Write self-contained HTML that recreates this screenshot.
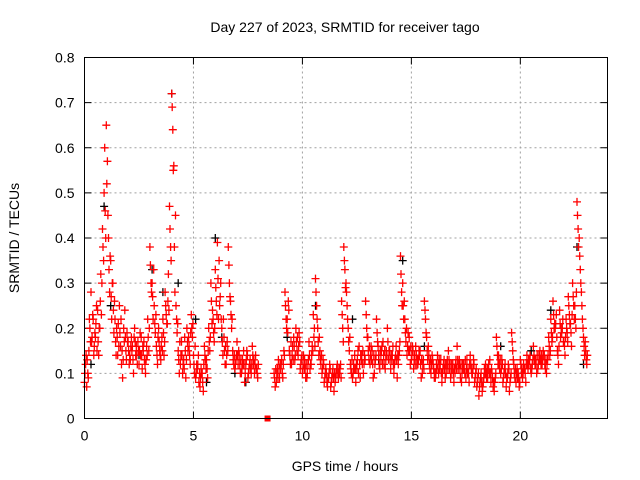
<!DOCTYPE html>
<html><head><meta charset="utf-8"><style>
body{margin:0;background:#fff;}
svg{display:block;font-family:"Liberation Sans",sans-serif;}
</style></head><body>
<svg id="chart" width="640" height="480" viewBox="0 0 640 480">
<text x="345" y="32" text-anchor="middle" font-size="14">Day 227 of 2023, SRMTID for receiver tago</text>
<text transform="translate(19,238) rotate(-90)" text-anchor="middle" font-size="14">SRMTID / TECUs</text>
<text x="345" y="471" text-anchor="middle" font-size="14">GPS time / hours</text>
<g id="grid"></g>
<g id="ticks"></g>
<g id="blk"></g>
<g id="red"></g>
<rect x="84.5" y="57.5" width="523" height="361" fill="none" stroke="#000" stroke-width="1"/>
</svg>
<script>
const xTicks=[0,5,10,15,20];
const yTicks=[0,0.1,0.2,0.3,0.4,0.5,0.6,0.7,0.8];
const yTickLabels=["0","0.1","0.2","0.3","0.4","0.5","0.6","0.7","0.8"];
const hours=[0,0.1,0.2,0.3,0.4,0.5,0.6,0.7,0.8,0.9,1,1.1,1.2,1.3,1.4,1.5,1.6,1.7,1.8,1.9,2,2.1,2.2,2.3,2.4,2.5,2.6,2.7,2.8,2.9,3,3.1,3.2,3.3,3.4,3.5,3.6,3.7,3.8,3.9,4,4.1,4.2,4.3,4.4,4.5,4.6,4.7,4.8,4.9,5,5.1,5.2,5.3,5.4,5.5,5.6,5.7,5.8,5.9,6,6.1,6.2,6.3,6.4,6.5,6.6,6.7,6.8,6.9,7,7.1,7.2,7.3,7.4,7.5,7.6,7.7,7.8,7.9,8,8.1,8.2,8.3,8.4,8.5,8.6,8.7,8.8,8.9,9,9.1,9.2,9.3,9.4,9.5,9.6,9.7,9.8,9.9,10,10.1,10.2,10.3,10.4,10.5,10.6,10.7,10.8,10.9,11,11.1,11.2,11.3,11.4,11.5,11.6,11.7,11.8,11.9,12,12.1,12.2,12.3,12.4,12.5,12.6,12.7,12.8,12.9,13,13.1,13.2,13.3,13.4,13.5,13.6,13.7,13.8,13.9,14,14.1,14.2,14.3,14.4,14.5,14.6,14.7,14.8,14.9,15,15.1,15.2,15.3,15.4,15.5,15.6,15.7,15.8,15.9,16,16.1,16.2,16.3,16.4,16.5,16.6,16.7,16.8,16.9,17,17.1,17.2,17.3,17.4,17.5,17.6,17.7,17.8,17.9,18,18.1,18.2,18.3,18.4,18.5,18.6,18.7,18.8,18.9,19,19.1,19.2,19.3,19.4,19.5,19.6,19.7,19.8,19.9,20,20.1,20.2,20.3,20.4,20.5,20.6,20.7,20.8,20.9,21,21.1,21.2,21.3,21.4,21.5,21.6,21.7,21.8,21.9,22,22.1,22.2,22.3,22.4,22.5,22.6,22.7,22.8,22.9,23];
const redA=[0.08,0.07,0.15,0.28,0.22,0.18,0.24,0.20,0.30,0.50,
0.65,0.40,0.35,0.30,0.22,0.18,0.25,0.12,0.20,0.15,
0.17,0.13,0.16,0.20,0.14,0.12,0.18,0.15,0.10,0.22,
0.38,0.30,0.25,0.16,0.20,0.13,0.22,0.28,0.21,0.47,
0.72,0.56,0.25,0.15,0.12,0.10,0.18,0.20,0.16,0.23,
0.14,0.09,0.12,0.07,0.10,0.16,0.13,0.20,0.30,0.22,
0.33,0.39,0.25,0.20,0.18,0.12,0.38,0.26,0.15,0.11,
0.17,0.14,0.10,0.15,0.12,0.09,0.13,0.16,0.10,0.11,
null,null,null,null,null,null,null,0.10,0.08,0.13,
0.11,0.09,0.28,0.22,0.15,0.12,0.18,0.20,0.14,0.11,
0.10,0.13,0.09,0.17,0.12,0.23,0.31,0.20,0.15,0.10,
0.08,0.10,0.09,0.07,0.11,0.08,0.12,0.10,0.26,0.38,
0.30,0.20,0.12,0.09,0.14,0.11,0.16,0.13,0.10,0.26,
0.18,0.12,0.15,0.10,0.22,0.14,0.13,0.17,0.11,0.20,
0.15,0.13,0.10,0.16,0.12,0.36,0.30,0.22,0.14,0.18,
0.13,0.11,0.16,0.12,0.15,0.10,0.26,0.18,0.14,0.10,
0.12,0.09,0.14,0.11,0.08,0.13,0.10,0.15,0.09,0.12,
0.10,0.16,0.13,0.08,0.12,0.09,0.11,0.14,0.10,0.08,
0.07,0.05,0.10,0.08,0.12,0.09,0.13,0.10,0.06,0.18,
0.14,0.10,0.08,0.12,0.09,0.06,0.19,0.12,0.08,0.10,
0.13,0.09,0.11,0.14,0.12,0.10,0.16,0.13,0.11,0.15,
0.12,0.14,0.10,0.18,0.22,0.26,0.20,0.15,0.24,0.19,
0.17,0.22,0.27,0.21,0.30,0.25,0.48,0.40,0.28,0.18,
0.15];
const redB=[0.12,0.10,0.20,0.18,0.16,0.25,0.14,0.32,0.38,0.46,
0.57,0.28,0.22,0.19,0.14,0.21,0.16,0.09,0.24,0.19,
0.12,0.18,0.10,0.14,0.17,0.19,0.11,0.13,0.16,0.15,
0.30,0.22,0.19,0.12,0.15,0.18,0.14,0.23,0.32,0.38,
0.64,0.28,0.19,0.10,0.17,0.13,0.09,0.15,0.12,0.18,
0.10,0.12,0.08,0.11,0.06,0.13,0.09,0.15,0.21,0.17,
0.26,0.22,0.30,0.14,0.12,0.17,0.30,0.20,0.12,0.13,
0.12,0.10,0.13,0.08,0.15,0.11,0.10,0.12,0.14,0.09,
null,null,null,null,null,null,null,0.07,0.11,0.09,
0.13,0.15,0.22,0.26,0.12,0.16,0.13,0.15,0.19,0.13,
0.14,0.09,0.12,0.11,0.16,0.20,0.25,0.14,0.12,0.13,
0.10,0.07,0.12,0.09,0.06,0.10,0.09,0.12,0.20,0.33,
0.25,0.15,0.10,0.12,0.08,0.15,0.09,0.12,0.14,0.20,
0.13,0.16,0.09,0.13,0.17,0.11,0.16,0.12,0.15,0.13,
0.11,0.16,0.13,0.09,0.15,0.28,0.22,0.17,0.19,0.12,
0.16,0.14,0.12,0.15,0.09,0.13,0.22,0.13,0.11,0.14,
0.09,0.12,0.10,0.13,0.11,0.09,0.13,0.11,0.12,0.08,
0.13,0.11,0.09,0.12,0.10,0.13,0.08,0.11,0.13,0.10,
0.09,0.08,0.06,0.11,0.09,0.12,0.08,0.07,0.09,0.14,
0.11,0.13,0.10,0.07,0.12,0.09,0.15,0.09,0.11,0.07,
0.10,0.12,0.08,0.11,0.14,0.12,0.13,0.10,0.14,0.12,
0.15,0.11,0.13,0.14,0.17,0.20,0.23,0.12,0.18,0.22,
0.14,0.19,0.23,0.16,0.25,0.20,0.42,0.33,0.22,0.14,
0.12];
const redC=[0.10,0.13,0.22,0.17,0.14,0.21,0.17,0.26,0.42,0.60,
0.52,0.33,0.27,0.24,0.17,0.14,0.19,0.15,0.17,0.13,
0.15,0.16,0.13,0.17,0.12,0.15,0.14,0.17,0.13,0.18,
0.34,0.27,0.21,0.14,0.17,0.16,0.19,0.25,0.26,0.42,
0.69,0.38,0.22,0.13,0.14,0.12,0.15,0.17,0.14,0.20,
0.12,0.10,0.14,0.09,0.08,0.14,0.11,0.17,0.26,0.19,
0.29,0.31,0.27,0.17,0.15,0.14,0.34,0.23,0.13,0.12,
0.14,0.12,0.11,0.12,0.13,0.10,0.11,0.14,0.12,0.10,
null,null,null,null,null,null,null,0.09,0.10,0.11,
0.12,0.12,0.25,0.19,0.14,0.14,0.16,0.17,0.16,0.12,
0.12,0.11,0.10,0.14,0.14,0.18,0.28,0.17,0.13,0.11,
0.09,0.08,0.10,0.08,0.09,0.09,0.10,0.11,0.23,0.35,
0.28,0.17,0.11,0.10,0.11,0.13,0.12,0.14,0.12,0.23,
0.15,0.14,0.12,0.12,0.19,0.12,0.15,0.14,0.13,0.17,
0.13,0.14,0.12,0.13,0.14,0.32,0.25,0.19,0.16,0.15,
0.14,0.13,0.14,0.13,0.12,0.12,0.24,0.15,0.12,0.12,
0.11,0.10,0.12,0.12,0.10,0.11,0.12,0.13,0.10,0.10,
0.12,0.13,0.11,0.10,0.11,0.11,0.10,0.12,0.11,0.09,
0.08,0.07,0.08,0.09,0.10,0.11,0.10,0.09,0.08,0.16,
0.12,0.11,0.09,0.10,0.10,0.08,0.17,0.10,0.10,0.09,
0.12,0.10,0.10,0.12,0.13,0.11,0.14,0.12,0.12,0.13,
0.13,0.12,0.12,0.16,0.19,0.23,0.21,0.14,0.21,0.20,
0.16,0.20,0.25,0.19,0.27,0.22,0.45,0.36,0.25,0.16,
0.13];
const redD=[0.14,0.09,0.17,0.23,0.19,0.15,0.20,0.23,0.35,0.40,
0.45,0.36,0.30,0.26,0.20,0.16,0.22,0.13,0.18,0.17,
0.14,0.15,0.18,0.16,0.15,0.14,0.16,0.12,0.14,0.20,
0.28,0.33,0.23,0.18,0.14,0.15,0.17,0.21,0.24,0.35,
0.55,0.45,0.21,0.17,0.14,0.11,0.13,0.18,0.19,0.21,
0.16,0.11,0.10,0.10,0.12,0.11,0.15,0.18,0.24,0.20,
0.23,0.35,0.22,0.22,0.16,0.15,0.27,0.22,0.14,0.14,
0.15,0.13,0.12,0.10,0.14,0.12,0.12,0.13,0.11,0.12,
null,null,null,null,null,null,null,0.11,0.09,0.12,
0.10,0.14,0.20,0.24,0.17,0.13,0.14,0.18,0.17,0.14,
0.11,0.12,0.13,0.12,0.15,0.16,0.22,0.18,0.14,0.12,
0.11,0.09,0.11,0.10,0.10,0.11,0.11,0.09,0.17,0.29,
0.22,0.18,0.13,0.11,0.12,0.10,0.14,0.15,0.13,0.18,
0.16,0.13,0.14,0.14,0.16,0.15,0.12,0.15,0.14,0.15,
0.14,0.12,0.14,0.14,0.17,0.25,0.26,0.20,0.15,0.16,
0.15,0.12,0.13,0.14,0.13,0.11,0.19,0.16,0.13,0.13,
0.10,0.11,0.13,0.10,0.12,0.12,0.11,0.12,0.11,0.11,
0.11,0.12,0.12,0.11,0.13,0.10,0.12,0.10,0.12,0.11,
0.10,0.09,0.07,0.10,0.11,0.10,0.11,0.08,0.10,0.12,
0.13,0.12,0.11,0.09,0.11,0.10,0.13,0.11,0.09,0.08,
0.11,0.11,0.12,0.13,0.11,0.13,0.12,0.14,0.13,0.14,
0.14,0.13,0.14,0.15,0.18,0.21,0.18,0.16,0.20,0.17,
0.18,0.17,0.21,0.23,0.22,0.28,0.38,0.30,0.20,0.17,
0.14];
const blackT=[0.3,0.9,1.2,2.5,3.1,3.6,4.0,4.3,5.1,5.6,6.0,6.3,6.9,7.4,9.3,10.6,12.3,13.5,14.6,15.6,17.2,19.1,20.5,21.4,22.6,22.9];
const blackV=[0.12,0.47,0.25,0.14,0.33,0.28,0.72,0.30,0.22,0.08,0.40,0.18,0.10,0.08,0.18,0.25,0.22,0.13,0.35,0.16,0.12,0.16,0.15,0.24,0.38,0.12];
const markT=[8.4];
const markV=[0];

const X0=84.5,X1=607.5,Y0=418.5,Y1=57.5;
const sx=h=>X0+h/24*(X1-X0);
const sy=v=>Y0-v/0.8*(Y0-Y1);
const NS="http://www.w3.org/2000/svg";
function mk(tag,attrs,parent){const e=document.createElementNS(NS,tag);for(const k in attrs)e.setAttribute(k,attrs[k]);parent.appendChild(e);return e;}
const grid=document.getElementById('grid'),ticks=document.getElementById('ticks');
yTicks.forEach((v,i)=>{
  const y=sy(v);
  if(i>0&&i<yTicks.length-1){const g=mk('line',{x1:X0,x2:X1,y1:y,y2:y,stroke:'#a0a0a0','stroke-dasharray':'2,3'},grid);
  
  }
  mk('line',{x1:X0,x2:X0+7,y1:y,y2:y,stroke:'#000'},ticks);
  mk('line',{x1:X1,x2:X1-7,y1:y,y2:y,stroke:'#000'},ticks);
  const t=mk('text',{x:X0-10,y:y+5,'text-anchor':'end','font-size':14},ticks);
  t.textContent=yTickLabels[i];
  
  
});
xTicks.forEach(h=>{
  const x=sx(h);
  if(h>0){const g=mk('line',{x1:x,x2:x,y1:Y0,y2:Y1,stroke:'#a0a0a0','stroke-dasharray':'2,3'},grid);
  
  }
  mk('line',{x1:x,x2:x,y1:Y0,y2:Y0-7,stroke:'#000'},ticks);
  mk('line',{x1:x,x2:x,y1:Y1,y2:Y1+7,stroke:'#000'},ticks);
  const t=mk('text',{x:x,y:Y0+22,'text-anchor':'middle','font-size':14},ticks);
  t.textContent=String(h);
  
  
});
function crosses(ts,vs,off,color,parent){
  let d='';
  ts.forEach((h,i)=>{const v=vs[i];if(v==null)return;const x=sx(h+off),y=sy(v);
    d+=`M${(x-4).toFixed(1)} ${y.toFixed(1)}h8M${x.toFixed(1)} ${(y-4).toFixed(1)}v8`;});
  const p=mk('path',{d:d,stroke:color,'stroke-width':1.3,fill:'none'},parent);
  
  
}
const blk=document.getElementById('blk'),red=document.getElementById('red');
crosses(blackT,blackV,0,'#000',blk);
crosses(hours,redA,0,'#ff0000',red);
crosses(hours,redB,0.05,'#ff0000',red);
crosses(hours,redC,0.025,'#ff0000',red);
crosses(hours,redD,0.075,'#ff0000',red);
markT.forEach((h,i)=>{const r=mk('rect',{x:sx(h)-3,y:sy(markV[i])-3,width:6,height:6,fill:'#ff0000'},red);

});
</script>
</body></html>
